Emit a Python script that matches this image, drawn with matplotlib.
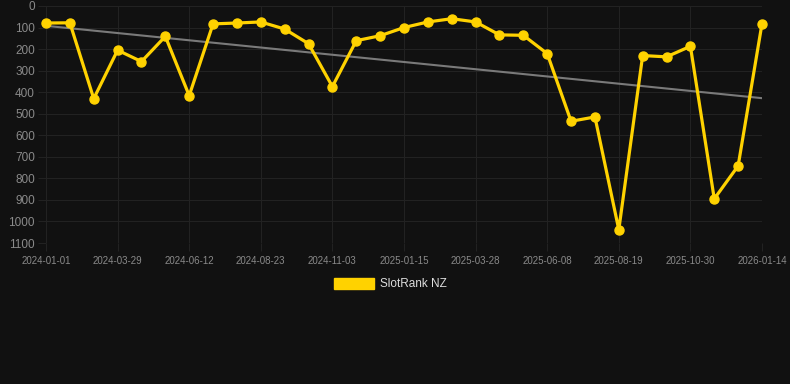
import numpy as np
import matplotlib.pyplot as plt
from matplotlib.patches import Patch

# Dati (rank, asse invertito)
tick_labels = ['2024-01-01', '2024-03-29', '2024-06-12', '2024-08-23', '2024-11-03',
               '2025-01-15', '2025-03-28', '2025-06-08', '2025-08-19', '2025-10-30',
               '2026-01-14']
rank = [79, 78, 430, 205, 258, 141, 416, 83, 79, 74, 107, 175, 374, 161, 138,
        100, 74, 59, 74, 134, 136, 221, 535, 515, 1038, 230, 236, 187, 895, 742, 82]

x = np.arange(len(rank))
coef = np.polyfit(x, rank, 1)
trend = np.polyval(coef, x)

bg = '#111111'
grid_col = '#222222'
plt.rcParams['font.family'] = ['Liberation Sans', 'DejaVu Sans']

fig = plt.figure(figsize=(7.9, 3.84), dpi=100, facecolor=bg)
ax = fig.add_axes([46/790, 1 - 243/384, (762 - 46)/790, (243 - 6)/384])
ax.set_facecolor(bg)

ax.plot(x, trend, color='#7a7a7a', linewidth=1.5, zorder=2)
ax.plot(x, rank, color='#FFD200', linewidth=2.3, marker='o', markersize=6.5,
        zorder=3, clip_on=False)

ax.set_xlim(0, len(rank) - 1)
ax.set_ylim(1100, 0)
ax.set_yticks(range(0, 1101, 100))
ax.set_xticks(x[::3])
ax.set_xticklabels(tick_labels)

ax.grid(True, color=grid_col, linewidth=0.8)
for s in ax.spines.values():
    s.set_visible(False)
ax.tick_params(axis='y', colors=grid_col, labelcolor='#8a8a8a', labelsize=8.5, length=6, pad=2)
ax.tick_params(axis='x', colors=grid_col, labelcolor='#8a8a8a', labelsize=7, length=6, pad=3)

handle = Patch(facecolor='#FFD200', edgecolor='#FFD200')
leg = fig.legend([handle], ['SlotRank NZ'], loc='center', bbox_to_anchor=(390/790, 1 - 284/384),
                 frameon=False, handlelength=3.4, handleheight=1.1, handletextpad=0.5,
                 fontsize=8.5)
for t in leg.get_texts():
    t.set_color('#dddddd')

fig.savefig('out.png', dpi=100, facecolor=bg)
